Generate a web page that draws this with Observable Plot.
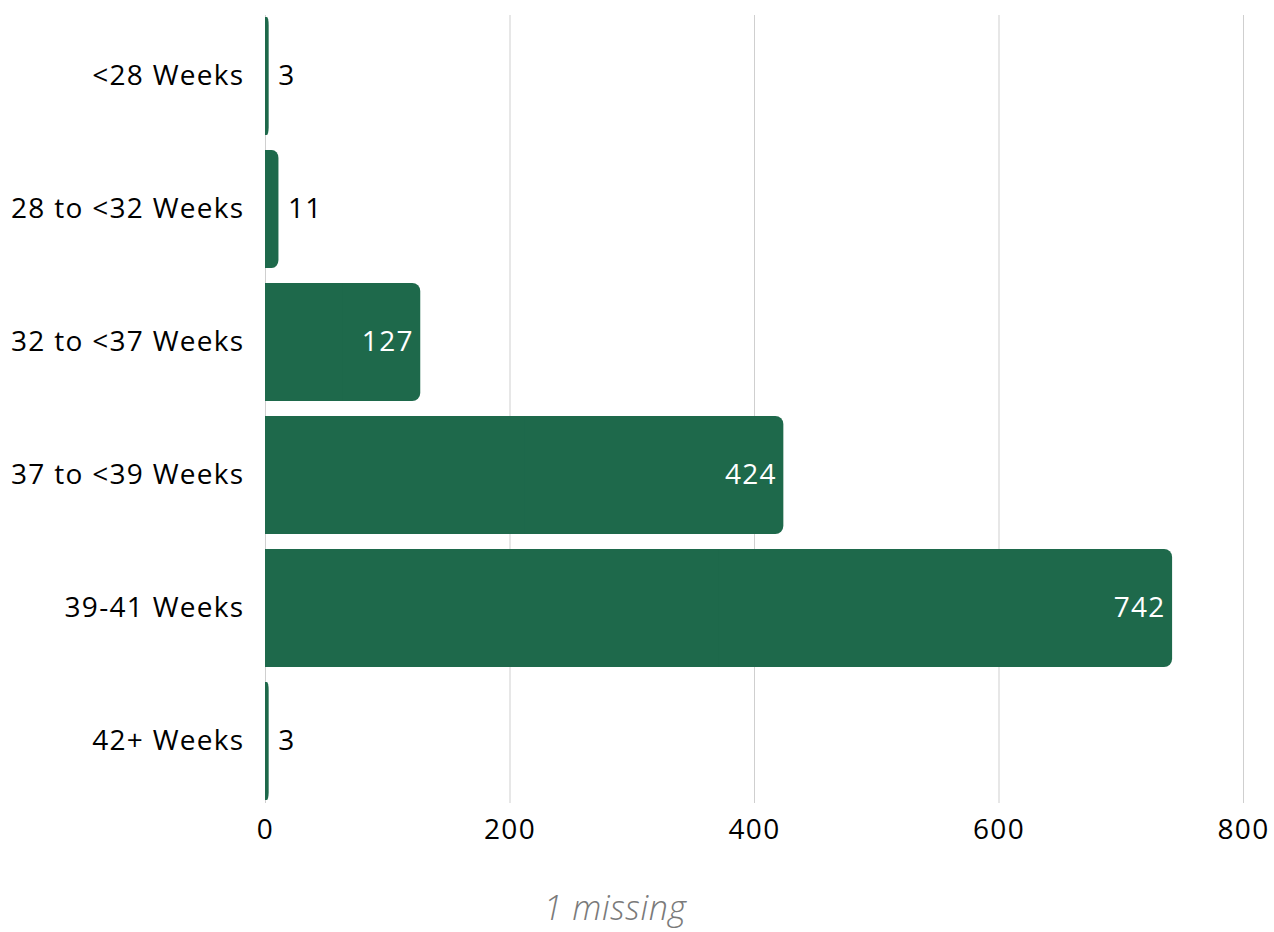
<!DOCTYPE html>
<html>
<head>
<meta charset="utf-8">
<script src="https://cdn.jsdelivr.net/npm/d3@7"></script>
<script src="https://cdn.jsdelivr.net/npm/@observablehq/plot@0.6"></script>
<style>
  html, body { margin: 0; padding: 0; background: #fff; }
  #wrap { position: relative; width: 1274px; height: 932px; overflow: hidden; }
  #chart svg text { letter-spacing: 1.3px; }
  #caption { position: absolute; top: 887px; left: 615px; transform: translateX(-50%);
    font-family: "Open Sans", sans-serif; font-style: italic; font-weight: 300; font-size: 34px; letter-spacing: 0.6px; color: #7a7a7a; white-space: nowrap; line-height: 1.2; }
</style>
</head>
<body>
<div id="wrap">
  <div id="chart"></div>
  <div id="caption">1 missing</div>
</div>
<script>
const categories = ["<28 Weeks", "28 to <32 Weeks", "32 to <37 Weeks", "37 to <39 Weeks", "39-41 Weeks", "42+ Weeks"];
const counts = [3, 11, 127, 424, 742, 3];
const xTicks = [0, 200, 400, 600, 800];

const data = categories.map((c, i) => ({category: c, value: counts[i]}));
const barColor = "#1e694b";
const font = "Open Sans, sans-serif";
const threshold = 60;

const chart = Plot.plot({
  width: 1274,
  height: 870,
  marginTop: 15,
  marginBottom: 67,
  marginLeft: 265,
  marginRight: 31,
  style: {fontFamily: font, fontSize: "28px", color: "#000", background: "#fff"},
  x: {domain: [0, 800], ticks: xTicks, tickSize: 0, tickPadding: 16, label: null, tickFormat: d => String(d)},
  y: {domain: categories, paddingInner: 0.11, paddingOuter: 0, tickSize: 0, tickPadding: 21, label: null},
  marks: [
    Plot.ruleX(xTicks, {stroke: "#cfcfcf", strokeWidth: 1}),
    Plot.barX(data, {y: "category", x: "value", fill: barColor, rx: 8}),
    Plot.barX(data, {y: "category", x1: 0, x2: d => d.value / 2, fill: barColor}),
    Plot.text(data.filter(d => d.value >= threshold), {y: "category", x: "value", text: d => String(d.value), textAnchor: "end", dx: -7, fill: "#fff", fontSize: 28}),
    Plot.text(data.filter(d => d.value < threshold), {y: "category", x: "value", text: d => String(d.value), textAnchor: "start", dx: 9, fill: "#000", fontSize: 28})
  ]
});
document.getElementById("chart").appendChild(chart);
</script>
</body>
</html>
